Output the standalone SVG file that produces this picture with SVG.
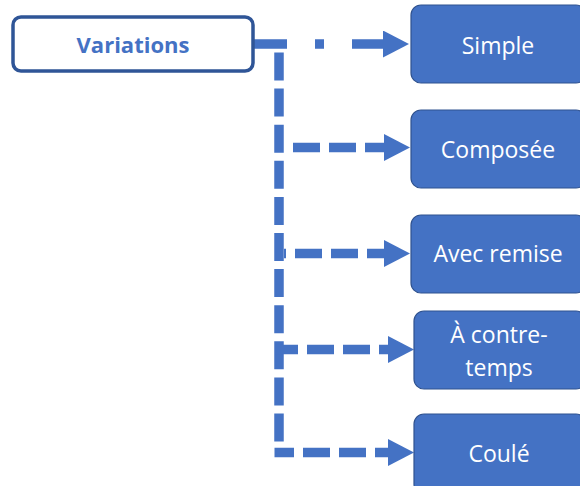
<svg xmlns="http://www.w3.org/2000/svg" width="580" height="486" viewBox="0 0 580 486">
  <defs>
    <style>
      .root rect { fill: #FFFFFF; stroke: #2F5597; stroke-width: 3.5; }
      .root text { fill: #4472C4; font-family: "Open Sans", "Liberation Sans", sans-serif; font-weight: bold; font-size: 22px; text-anchor: middle; }
      .leaf rect { fill: #4472C4; stroke: #2F528F; stroke-width: 1.2; }
      .leaf text { fill: #FFFFFF; font-family: "Open Sans", "Liberation Sans", sans-serif; font-size: 23px; text-anchor: middle; }
      .wire { fill: none; stroke: #4472C4; stroke-width: 9.5; }
      .branch { stroke-dasharray: 27 9; }
    </style>
    <marker id="head" markerUnits="userSpaceOnUse" markerWidth="27" markerHeight="28" refX="0" refY="13.5" orient="auto">
      <polygon points="0,0 26,13.5 0,27" fill="#4472C4"/>
    </marker>
  </defs>

  <!-- connectors -->
  <g id="connectors">
    <!-- top run to Simple -->
    <path class="wire" d="M253,44 H383" stroke-dasharray="34 28 9 28 31" marker-end="url(#head)"/>
    <!-- vertical spine -->
    <path class="wire" d="M279,52.5 V443" stroke-dasharray="28 8.1"/>
    <!-- branches -->
    <path class="wire branch" d="M284,147.5 H384" stroke-dashoffset="27" marker-end="url(#head)"/>
    <path class="wire branch" d="M284,253.5 H384" stroke-dashoffset="25" marker-end="url(#head)"/>
    <path class="wire branch" d="M275,349.5 H388" stroke-dashoffset="4" marker-end="url(#head)"/>
    <path class="wire branch" d="M274.5,452.5 H388" stroke-dashoffset="7.5" marker-end="url(#head)"/>
  </g>

  <g id="variations" class="root">
    <rect x="13" y="17" width="240" height="54" rx="8"/>
    <text x="133" y="53">Variations</text>
  </g>

  <g id="simple" class="leaf">
    <rect x="411" y="5" width="175" height="78" rx="10"/>
    <text x="498" y="54">Simple</text>
  </g>

  <g id="composee" class="leaf">
    <rect x="411" y="110" width="175" height="78" rx="10"/>
    <text x="498" y="158">Composée</text>
  </g>

  <g id="avec-remise" class="leaf">
    <rect x="411" y="215" width="175" height="78" rx="10"/>
    <text x="498" y="262">Avec remise</text>
  </g>

  <g id="contre-temps" class="leaf">
    <rect x="414" y="311" width="172" height="78" rx="10"/>
    <text x="499" y="343">À contre-</text>
    <text x="499" y="376">temps</text>
  </g>

  <g id="coule" class="leaf">
    <rect x="414" y="414" width="172" height="80" rx="10"/>
    <text x="499" y="462">Coulé</text>
  </g>
</svg>
